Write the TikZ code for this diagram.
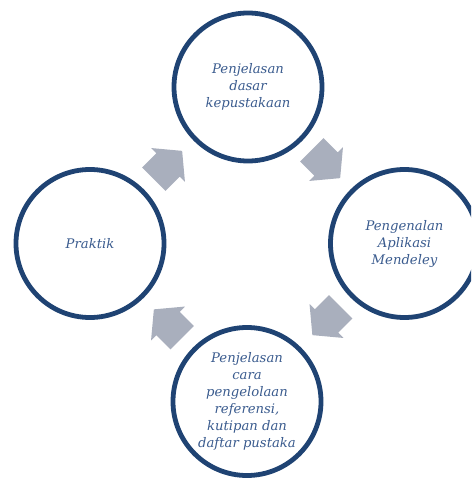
\documentclass[tikz,border=0pt]{standalone}
\usepackage{fontspec}
\setmainfont{DejaVu Serif}
\begin{document}
\begin{tikzpicture}[x=1pt,y=-1pt,
  ring/.style={circle,draw=ringblue,line width=4.8pt,minimum size=148pt,inner sep=0pt,
    align=center,text=txtblue,font=\itshape\fontsize{13.2}{17}\selectfont},
  blockarrow/.pic={\fill[arrowgray] (-20,-16.5) -- (0,-16.5) -- (0,-24) -- (20,0) -- (0,24) -- (0,16.5) -- (-20,16.5) -- cycle;}]
\definecolor{ringblue}{HTML}{1F4373}
\definecolor{txtblue}{HTML}{3A5B8E}
\definecolor{arrowgray}{HTML}{A9AFBD}
\useasboundingbox (0,0) rectangle (471,481);
\clip (0,0) rectangle (471,481);
\node[ring] (top) at (248,87) {Penjelasan\\dasar\\kepustakaan};
\node[ring] (right) at (404.5,243.5) {Pengenalan\\Aplikasi\\Mendeley};
\node[ring] (bottom) at (247,401.5) {Penjelasan\\cara\\pengelolaan\\referensi,\\kutipan dan\\daftar pustaka};
\node[ring] (left) at (90,243.5) {Praktik};
\pic[rotate=45] at (168,165) {blockarrow};
\pic[rotate=-45] at (326,164) {blockarrow};
\pic[rotate=-135] at (326.5,321) {blockarrow};
\pic[rotate=135] at (168,323.5) {blockarrow};
\end{tikzpicture}
\end{document}
